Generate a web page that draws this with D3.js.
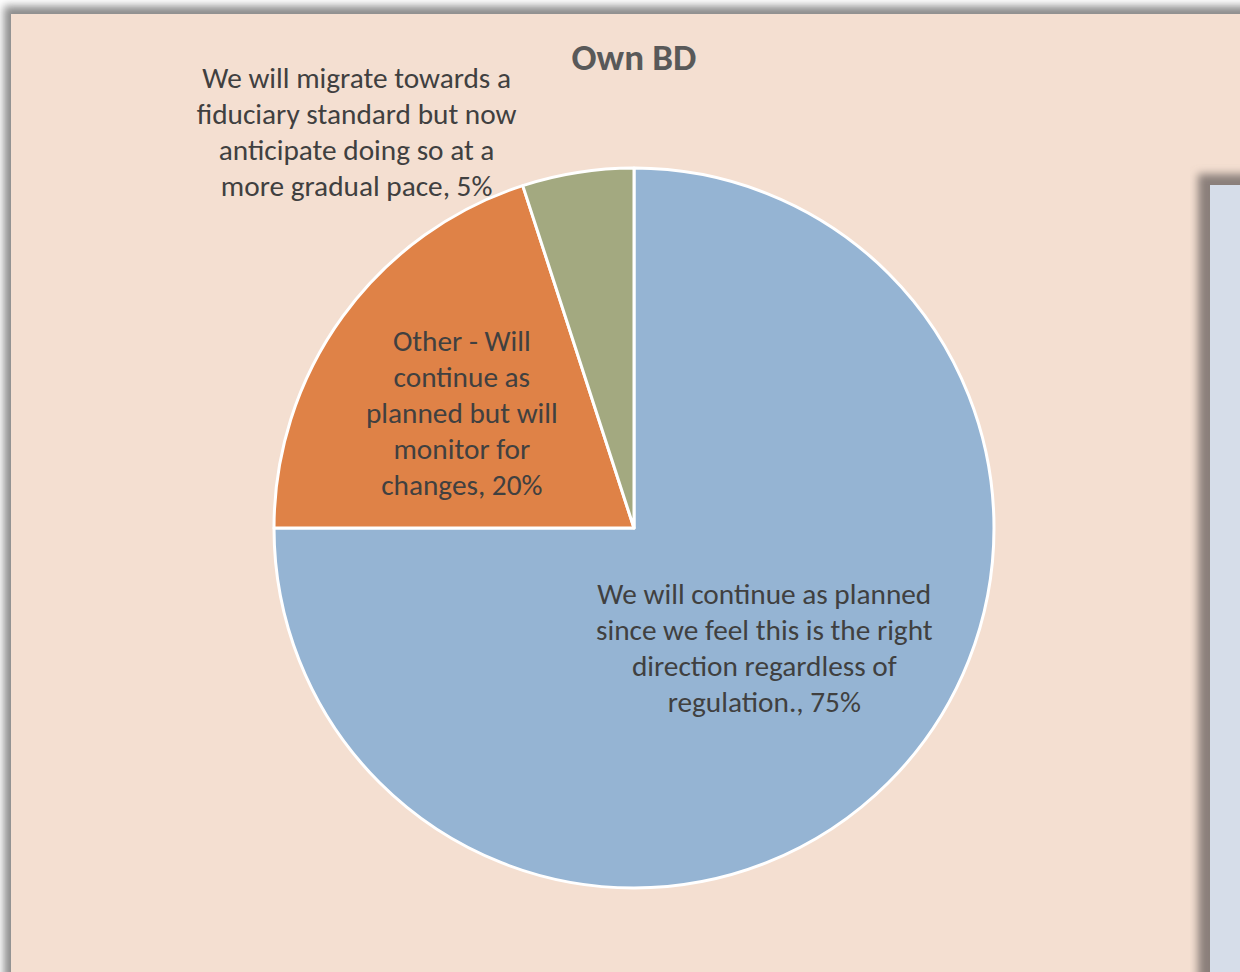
<!DOCTYPE html>
<html>
<head>
<meta charset="utf-8">
<script src="https://cdn.jsdelivr.net/npm/d3@7"></script>
<style>
  html, body { margin: 0; padding: 0; background: #ffffff; }
  svg { display: block; }
</style>
</head>
<body>
<svg id="chart"></svg>
<script>
const width = 1240;
const height = 972;

// data
const categories = [
    "We will continue as planned since we feel this is the right direction regardless of regulation.",
    "Other - Will continue as planned but will monitor for changes",
    "We will migrate towards a fiduciary standard but now anticipate doing so at a more gradual pace"
];
const shares = [75, 20, 5];
const labelLines = [
    ["We will continue as planned", "since we feel this is the right", "direction regardless of", "regulation., 75%"],
    ["Other - Will", "continue as", "planned but will", "monitor for", "changes, 20%"],
    ["We will migrate towards a", "fiduciary standard but now", "anticipate doing so at a", "more gradual pace, 5%"]
];
const sliceColors = ["#95b4d3", "#df8247", "#a3a980"];
const title = "Own BD";

const cx = 634, cy = 528, radius = 360;
const font = "Calibri, Carlito, Lato, sans-serif";

const svg = d3.select("#chart")
    .attr("width", width)
    .attr("height", height)
    .attr("font-family", font);

const defs = svg.append("defs");
const blur = defs.append("filter").attr("id", "shadow")
    .attr("x", "-10%").attr("y", "-10%").attr("width", "120%").attr("height", "120%");
blur.append("feGaussianBlur").attr("stdDeviation", 4);

// drop shadow of the chart frame
svg.append("rect")
    .attr("x", 4).attr("y", 6)
    .attr("width", width + 20).attr("height", height + 20)
    .attr("fill", "#8c8c8c")
    .attr("filter", "url(#shadow)");

// chart area
svg.append("rect")
    .attr("x", 11).attr("y", 14)
    .attr("width", width).attr("height", height)
    .attr("fill", "#f4dfd1");

// the panel peeking in on the right, with its shadow
svg.append("rect")
    .attr("x", 1198).attr("y", 174)
    .attr("width", 80).attr("height", 820)
    .attr("fill", "#8a7f7a")
    .attr("filter", "url(#shadow)");
svg.append("rect")
    .attr("x", 1210).attr("y", 185)
    .attr("width", 60).attr("height", 800)
    .attr("fill", "#d6dde9");

const pie = d3.pie()
    .sort(null)
    .value(d => d);

const arc = d3.arc()
    .innerRadius(0)
    .outerRadius(radius);

const arcs = pie(shares);

const g = svg.append("g")
    .attr("transform", `translate(${cx},${cy})`);

g.selectAll("path")
    .data(arcs)
    .join("path")
    .attr("d", arc)
    .attr("fill", (d, i) => sliceColors[i])
    .attr("stroke", "#ffffff")
    .attr("stroke-width", 3)
    .attr("stroke-linejoin", "round");

// label anchors: fraction of radius along the slice middle, plus a nudge
const labelRadius = [0.5, 0.55, 1.25];
const labelNudge = [[3, -8], [-12, 1], [-207, 48]];
const lineHeight = 36;

arcs.forEach((d, i) => {
    const mid = (d.startAngle + d.endAngle) / 2;
    const r = radius * labelRadius[i];
    const x = Math.sin(mid) * r + labelNudge[i][0];
    const y = -Math.cos(mid) * r + labelNudge[i][1];
    const lines = labelLines[i];
    const text = g.append("text")
        .attr("text-anchor", "middle")
        .attr("font-size", 29.3)
        .attr("fill", "#404040");
    lines.forEach((line, k) => {
        text.append("tspan")
            .attr("x", x)
            .attr("y", y + (k - (lines.length - 1) / 2) * lineHeight)
            .attr("dy", "0.35em")
            .text(line);
    });
});

svg.append("text")
    .attr("x", cx)
    .attr("y", 57)
    .attr("dy", "0.35em")
    .attr("text-anchor", "middle")
    .attr("font-size", 37)
    .attr("font-weight", "bold")
    .attr("fill", "#595959")
    .text(title);
</script>
</body>
</html>
